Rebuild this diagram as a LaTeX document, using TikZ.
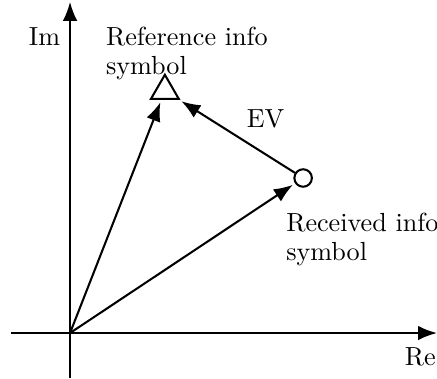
\documentclass[tikz,border=0pt]{standalone}
\usepackage{tikz}
\usetikzlibrary{arrows.meta,positioning,shapes.geometric}

\begin{document}
\begin{tikzpicture}[-{Latex[length=2.6mm,width=2mm]},thick,
      every node/.style={font=\fontsize{10.2}{11.4}\selectfont},
      point node/.style={draw,-,thick},
      lbl/.style={inner sep=0pt,align=left}]
      \useasboundingbox (-0.96,-0.617) rectangle (5.03,4.565);

      % axes
      \draw (-0.81,0) -- (5.03,0);
      \draw[-] (0,-0.617) -- (0,0);
      \draw (0,0) -- (0,4.54);
      \node (im) at (-0.35,4.07) {Im};
      \node (re) at (4.80,-0.33) {Re};

      \coordinate (o) at (0,0);
      \node[point node,regular polygon,regular polygon sides=3,minimum size=0.44cm,inner sep=0pt] (ref) at (1.30,3.32) {};
      \node[point node,circle,minimum size=0.24cm,inner sep=0pt] (rec) at (3.195,2.125) {};

      \node[lbl,anchor=north west] (reflbl) at (0.48,4.21) {Reference info\\symbol};
      \node[lbl,anchor=north west] (reclbl) at (2.95,1.66) {Received info\\symbol};
      \node (ev) at (2.68,2.93) {EV};

      \foreach \from/\to in {o/ref,o/rec,rec/ref}
	\draw[shorten >=1pt] (\from) -- (\to);

\end{tikzpicture}
\end{document}
